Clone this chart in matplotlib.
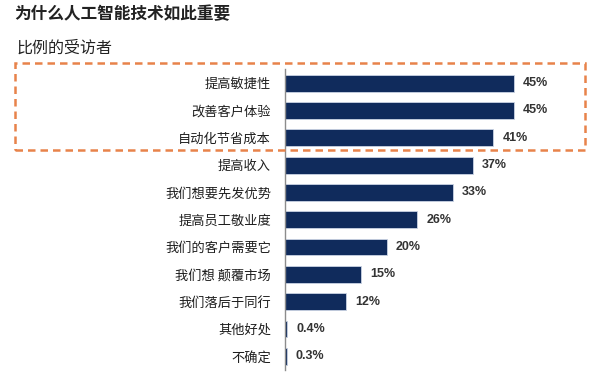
import matplotlib
matplotlib.use("Agg")
import matplotlib.pyplot as plt
from matplotlib.patches import Rectangle

plt.rcParams['font.family'] = ['Noto Sans CJK SC', 'DejaVu Sans']

categories = ["提高敏捷性", "改善客户体验", "自动化节省成本", "提高收入", "我们想要先发优势",
              "提高员工敬业度", "我们的客户需要它", "我们想 颠覆市场", "我们落后于同行", "其他好处", "不确定"]
values = [45, 45, 41, 37, 33, 26, 20, 15, 12, 0.4, 0.3]
title = "为什么人工智能技术如此重要"
subtitle = "比例的受访者"

bar_color = "#102B5C"
box_color = "#E8834A"

fig = plt.figure(figsize=(6, 3.75), dpi=100)
ax = fig.add_axes([0.475, 0.0133, 0.508, 0.8017])

y = list(range(len(categories)))
ax.barh(y, values, height=0.62, color=bar_color, edgecolor="#C9D3E3", linewidth=0.6)
ax.set_ylim(len(categories) - 0.5, -0.5)
ax.set_xlim(0, 60)
ax.set_yticks(y)
ax.set_yticklabels(categories, fontsize=9.5, color="#1E1E1E")
ax.tick_params(axis='y', length=0, pad=10)
ax.set_xticks([])
for s in ["top", "right", "bottom"]:
    ax.spines[s].set_visible(False)
ax.spines["left"].set_color("#8C8C8C")
ax.spines["left"].set_linewidth(1.0)

for yi, v in zip(y, values):
    lab = f"{v:.1f}%" if v < 1 else f"{v:g}%"
    ax.text(v + 1.8, yi, lab, va="center", ha="left", fontsize=9,
            fontweight="bold", color="#333333", family=['Liberation Sans', 'DejaVu Sans'])

fig.text(0.023, 0.962, title, fontsize=12, fontweight="bold", color="#222222",
         va="center", ha="left")
fig.text(0.028, 0.872, subtitle, fontsize=11.5, color="#222222", va="center", ha="left")

rect = Rectangle((0.025, 0.6), 0.95, 0.232, transform=fig.transFigure, fill=False,
                 edgecolor=box_color, linewidth=1.8, linestyle=(0, (3, 2)))
fig.patches.append(rect)

fig.savefig("out.png", dpi=100, facecolor="white")
